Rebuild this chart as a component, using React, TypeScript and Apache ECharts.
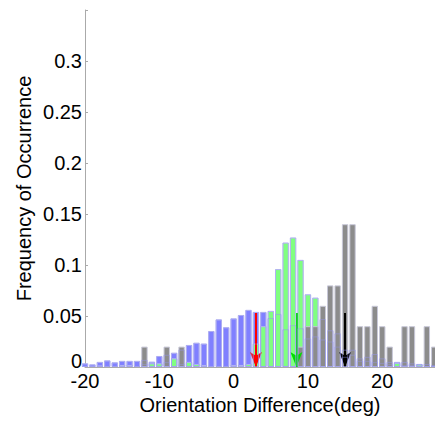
import React, { useEffect, useRef } from "react";
import * as echarts from "echarts";

const bins = [-20,-19,-18,-17,-16,-15,-14,-13,-12,-11,-10,-9,-8,-7,-6,-5,-4,-3,-2,-1,0,1,2,3,4,5,6,7,8,9,10,11,12,13,14,15,16,17,18,19,20,21,22,23,24,25,26,27];

const blueValues = [0.0036,0.0026,0.005,0.0065,0.0046,0.006,0.006,0.006,0.007,0.0052,0.0108,0.012,0.014,0.017,0.0216,0.0238,0.023,0.0353,0.0467,0.039,0.0477,0.051,0.056,0.054,0.054,0.048,0.052,0.037,0.041,0.038,0.028,0.030,0.027,0.036,0.033,0.017,0.017,0.0085,0.010,0.0127,0.0085,0.005,0.005,0.005,0.0036,0.003,0.003,0.002];

const greenValues = [0.001,0.001,0.0015,0.001,0.001,0.002,0.002,0.001,0.003,0.0036,0.0036,0.005,0.0085,0.003,0.005,0.003,0.002,0.001,0.001,0.001,0.002,0.002,0.003,0.023,0.040,0.055,0.096,0.122,0.127,0.105,0.0713,0.068,0.047,0.025,0.02,0.01,0.012,0.006,0.006,0.005,0.004,0.003,0.004,0.002,0.002,0.0025,0.001,0.001];

const grayValues = [0,0,0,0,0,0,0,0,0.02,0,0,0.02,0,0.02,0,0,0,0,0,0,0,0,0,0,0,0,0,0,0,0.02,0.04,0.04,0.06,0.08,0.08,0.14,0.14,0.04,0.04,0.06,0.04,0.02,0,0.04,0.04,0,0.04,0.02];

// arrows: [x position, top value, colour]
const arrowX = [3, 8.45, 15];
const arrowTop = [0.053, 0.053, 0.053];
const arrowColors = ["#ff0000", "#00dd00", "#000000"];

const yTicks = [0, 0.05, 0.1, 0.15, 0.2, 0.25, 0.3];

const FONT = "'Liberation Sans', Arial, Helvetica, sans-serif";

function toPairs(vals: number[]) {
  return bins.map((b, i) => (vals[i] > 0 ? [b, vals[i]] : [b, "-"]));
}

export default function App() {
  const ref = useRef<HTMLDivElement>(null);
  useEffect(() => {
    document.body.style.margin = "0";
    if (!ref.current) return;
    const chart = echarts.init(ref.current, null, { renderer: "svg" });
    const barBase = {
      type: "bar" as const,
      barWidth: 6.4,
      barGap: "-100%",
      clip: true,
    };
    const option: any = {
      animation: false,
      grid: { left: 85, right: 0, top: 10, bottom: 56, containLabel: false, outerBoundsMode: "none" },
      xAxis: {
        type: "value",
        min: -20,
        max: 27.1,
        interval: 10,
        name: "Orientation Difference(deg)",
        nameLocation: "middle",
        nameGap: 28,
        nameMoveOverlap: false,
        nameTextStyle: { fontSize: 20, color: "#000", fontFamily: FONT },
        axisLine: { show: true, onZero: false, lineStyle: { color: "#aaaaaa", width: 1 } },
        axisTick: { show: true, inside: true, length: 3, lineStyle: { color: "#aaaaaa" } },
        axisLabel: {
          fontSize: 20,
          color: "#000",
          fontFamily: FONT,
          margin: 4,
          showMaxLabel: false,
          formatter: (v: number) => (Math.abs(v % 10) < 1e-6 ? String(v) : ""),
        },
        splitLine: { show: false },
      },
      yAxis: {
        type: "value",
        min: 0,
        max: 0.35,
        interval: 0.05,
        name: "Frequency of Occurrence",
        nameLocation: "middle",
        nameGap: 51,
        nameMoveOverlap: false,
        nameTextStyle: { fontSize: 20, color: "#000", fontFamily: FONT },
        axisLine: { show: true, onZero: false, lineStyle: { color: "#aaaaaa", width: 1 } },
        axisTick: { show: true, inside: true, length: 3, lineStyle: { color: "#aaaaaa" } },
        axisLabel: {
          fontSize: 20,
          color: "#000",
          fontFamily: FONT,
          margin: 3,
          formatter: (v: number) => {
            const r = parseFloat(v.toFixed(2));
            if (r === 0) return "{z|0}";
            return yTicks.some((t) => Math.abs(t - r) < 1e-6) ? String(r) : "";
          },
          rich: {
            z: { fontSize: 20, color: "#000", fontFamily: FONT, padding: [0, 0, 12, 0] },
          },
        },
        splitLine: { show: false },
      },
      series: [
        {
          ...barBase,
          name: "blue",
          z: 2,
          data: toPairs(blueValues),
          itemStyle: { color: "#8080ff", borderColor: "#c4c4f4", borderWidth: 1 },
        },
        {
          ...barBase,
          name: "green",
          z: 3,
          data: toPairs(greenValues),
          itemStyle: { color: "#80ff80", borderColor: "#c4c4f4", borderWidth: 1 },
        },
        {
          ...barBase,
          name: "gray",
          z: 4,
          data: toPairs(grayValues),
          itemStyle: { color: "#8c8c8c", borderColor: "#c8c8d8", borderWidth: 1 },
        },
        {
          ...barBase,
          name: "blueEdge",
          z: 5,
          silent: true,
          data: toPairs(blueValues),
          itemStyle: { color: "rgba(0,0,0,0)", borderColor: "rgba(150,150,240,0.5)", borderWidth: 1 },
        },
        {
          ...barBase,
          name: "greenEdge",
          z: 5,
          silent: true,
          data: toPairs(greenValues),
          itemStyle: { color: "rgba(0,0,0,0)", borderColor: "rgba(150,150,240,0.4)", borderWidth: 1 },
        },
        {
          type: "scatter",
          name: "arrows",
          z: 10,
          data: [],
          markLine: {
            silent: true,
            symbol: ["none", "arrow"],
            symbolSize: [9, 15],
            label: { show: false },
            data: arrowX.map((x, i) => [
              { coord: [x, arrowTop[i]], lineStyle: { color: arrowColors[i], width: 2, type: "solid" }, itemStyle: { color: arrowColors[i] } },
              { coord: [x, 0] },
            ]),
          },
        },
      ],
    };
    chart.setOption(option);
    return () => chart.dispose();
  }, []);
  return <div ref={ref} style={{ width: 435, height: 423 }} />;
}
